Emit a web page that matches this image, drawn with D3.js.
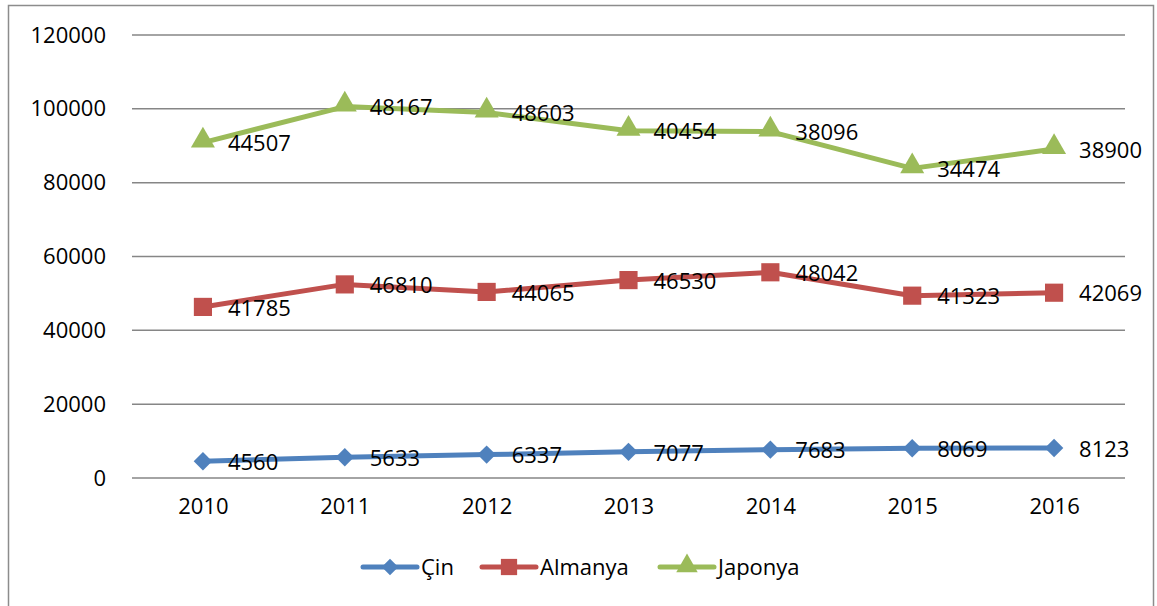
<!DOCTYPE html>
<html>
<head>
<meta charset="utf-8">
<script src="https://cdn.jsdelivr.net/npm/d3@7"></script>
<style>
  body { margin: 0; background: #fff; }
  text { font-family: "Open Sans", "Liberation Sans", sans-serif; fill: #000; }
</style>
</head>
<body>
<div id="chart"></div>
<script>
// Chart data (stacked line chart, labels show each series' own value)
const years = ["2010", "2011", "2012", "2013", "2014", "2015", "2016"];
const seriesNames = ["Çin", "Almanya", "Japonya"];
const cin = [4560, 5633, 6337, 7077, 7683, 8069, 8123];
const almanya = [41785, 46810, 44065, 46530, 48042, 41323, 42069];
const japonya = [44507, 48167, 48603, 40454, 38096, 34474, 38900];
const yTicks = [0, 20000, 40000, 60000, 80000, 100000, 120000];

const colors = ["#4F81BD", "#C0504D", "#9BBB59"];
// diamond = square turned 45 degrees
const symbols = [d3.symbolSquare, d3.symbolSquare, d3.symbolTriangle];
const symbolSizes = [170, 330, 250];
const rotations = [45, 0, 0];

const W = 1157, H = 606;
const margin = { top: 35, right: 32, bottom: 128, left: 132 };
const width = W - margin.left - margin.right;
const height = H - margin.top - margin.bottom;

const svg = d3.select("#chart").append("svg")
  .attr("width", W)
  .attr("height", H);

// outer frame
svg.append("rect")
  .attr("x", 8.5).attr("y", 5.5)
  .attr("width", 1145).attr("height", 640)
  .attr("fill", "none")
  .attr("stroke", "#8c8c8c")
  .attr("stroke-width", 1.5);

const g = svg.append("g")
  .attr("transform", `translate(${margin.left},${margin.top})`);

// build the rows for d3.stack
const rows = years.map((y, i) => ({ year: y, "Çin": cin[i], "Almanya": almanya[i], "Japonya": japonya[i] }));
const stacked = d3.stack().keys(seriesNames)(rows);

const x = d3.scalePoint()
  .domain(years)
  .range([0, width])
  .padding(0.5);

const y = d3.scaleLinear()
  .domain([0, 120000])
  .range([height, 0]);

// gridlines
g.append("g")
  .selectAll("line")
  .data(yTicks)
  .enter().append("line")
  .attr("x1", 0).attr("x2", width)
  .attr("y1", d => y(d)).attr("y2", d => y(d))
  .attr("stroke", "#868686")
  .attr("stroke-width", 1.5);

// y axis labels
const yAxis = d3.axisLeft(y).tickValues(yTicks).tickFormat(d3.format("d")).tickSize(0).tickPadding(26);
g.append("g")
  .call(yAxis)
  .call(a => a.select(".domain").remove())
  .selectAll("text")
  .style("font-size", "22px")
  .style("font-family", "'Open Sans', sans-serif");

// x axis labels
const xAxis = d3.axisBottom(x).tickSize(0).tickPadding(20);
g.append("g")
  .attr("transform", `translate(0,${height})`)
  .call(xAxis)
  .call(a => a.select(".domain").remove())
  .selectAll("text")
  .style("font-size", "22px")
  .style("font-family", "'Open Sans', sans-serif");

const line = d3.line()
  .x(d => x(d.data.year))
  .y(d => y(d[1]));

const layers = g.selectAll(".layer")
  .data(stacked)
  .enter().append("g")
  .attr("class", "layer");

layers.append("path")
  .attr("d", d => line(d))
  .attr("fill", "none")
  .attr("stroke", (d, i) => colors[i])
  .attr("stroke-width", 5)
  .attr("stroke-linejoin", "round");

layers.each(function(s, i) {
  d3.select(this).selectAll("path.marker")
    .data(s)
    .enter().append("path")
    .attr("class", "marker")
    .attr("d", d3.symbol().type(symbols[i]).size(symbolSizes[i]))
    .attr("transform", d => `translate(${x(d.data.year)},${y(d[1]) + (i === 2 ? -2 : 0)}) rotate(${rotations[i]})`)
    .attr("fill", colors[i]);
});

// data labels (own values)
const ownValues = [cin, almanya, japonya];
layers.each(function(s, i) {
  d3.select(this).selectAll("text.lbl")
    .data(s)
    .enter().append("text")
    .attr("class", "lbl")
    .attr("x", d => x(d.data.year) + 25)
    .attr("y", d => y(d[1]) + 1)
    .attr("dy", "0.35em")
    .style("font-size", "22px")
    .text((d, j) => ownValues[i][j]);
});

// legend
const legendItems = [
  { x: 363, name: "Çin" },
  { x: 482, name: "Almanya" },
  { x: 660, name: "Japonya" }
];
const legend = svg.append("g").attr("transform", "translate(0,567)");
legendItems.forEach((item, i) => {
  const lg = legend.append("g").attr("transform", `translate(${item.x},0)`);
  lg.append("line")
    .attr("x1", 0).attr("x2", 54)
    .attr("y1", 0).attr("y2", 0)
    .attr("stroke", colors[i])
    .attr("stroke-width", 5)
    .attr("stroke-linecap", "round");
  lg.append("path")
    .attr("d", d3.symbol().type(symbols[i]).size(symbolSizes[i] * 0.8))
    .attr("transform", `translate(27,${i === 2 ? -1 : 0}) rotate(${rotations[i]})`)
    .attr("fill", colors[i]);
  lg.append("text")
    .attr("x", 58)
    .attr("y", 0)
    .attr("dy", "0.35em")
    .style("font-size", "22px")
    .text(item.name);
});
</script>
</body>
</html>
